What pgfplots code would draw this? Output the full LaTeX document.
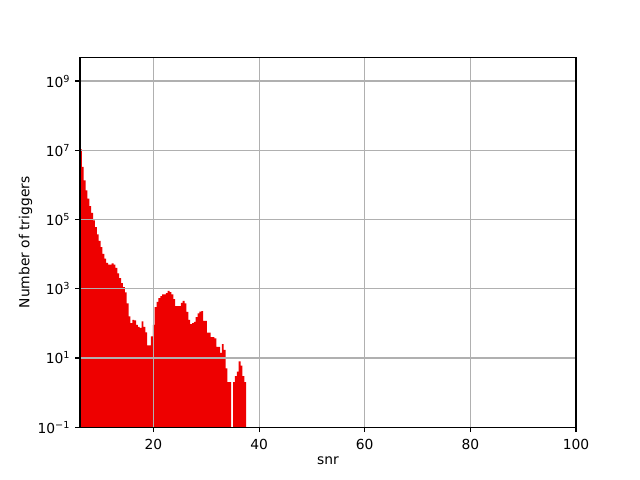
\documentclass[border=0pt]{standalone}
\usepackage{fontspec}
\setmainfont{DejaVu Sans}
\usepackage{pgfplots}
\pgfplotsset{compat=1.18}
\definecolor{barred}{RGB}{238,0,0}
\definecolor{gridgray}{RGB}{176,176,176}
\begin{document}
\fontsize{10}{12}\selectfont
\begin{tikzpicture}
\path[use as bounding box, fill=white] (-0.8in,-0.528in) rectangle (5.6in,4.272in);
\begin{axis}[
  at={(0,0)}, anchor=south west,
  scale only axis, width=4.96in, height=3.696in,
  xmin=6.1, xmax=100,
  ymode=log, ymin=0.1, ymax=4.76e9,
  log origin y=infty,
  xtick={20,40,60,80,100},
  xticklabels={20,40,60,80,100},
  ytick={1e-1,1e1,1e3,1e5,1e7,1e9},
  yticklabels={10\textsuperscript{−1},10\textsuperscript{1},10\textsuperscript{3},10\textsuperscript{5},10\textsuperscript{7},10\textsuperscript{9}},
  xminorticks=false, yminorticks=false,
  xtick pos=bottom, ytick pos=left,
  tick align=outside,
  major tick length=0.049in,
  tick style={black, line width=0.8pt},
  axis line style={black, line width=0.8pt},
  grid=major,
  major grid style={gridgray, line width=0.8pt},
  axis on top,
  xlabel={snr},
  ylabel={Number of triggers},
  tick label style={font=\fontsize{10}{12}\selectfont},
  label style={font=\fontsize{10}{12}\selectfont},
  xticklabel style={yshift=-0.02in},
  xlabel style={yshift=0.02in},
  ylabel style={yshift=-0.04in},
]
\addplot[ybar interval, fill=barred, draw=none] table {
x y
6.100 1.07e7
6.453 3.3e6
6.807 1.35e6
7.160 6.9e5
7.514 4.0e5
7.867 2.45e5
8.220 1.55e5
8.574 9.5e4
8.927 6.0e4
9.281 3.7e4
9.634 2.4e4
9.987 1.6e4
10.341 1.02e4
10.694 7400
11.048 5600
11.401 5000
11.754 5000
12.108 5400
12.461 5000
12.815 4000
13.168 2800
13.521 2040
13.875 1450
14.228 1120
14.582 790
14.935 380
15.288 158
15.642 102
15.995 126
16.349 122
16.702 91
17.055 79
17.409 74
17.762 115
18.116 79
18.469 55
18.822 23
19.176 23
19.529 42
19.883 91
20.236 295
20.589 417
20.943 537
21.296 617
21.650 692
22.003 692
22.356 741
22.710 871
23.063 794
23.417 692
23.770 501
24.123 316
24.477 316
24.830 316
25.184 389
25.537 447
25.890 380
26.244 214
26.597 126
26.951 95
27.304 102
27.657 110
28.011 151
28.364 195
28.718 219
29.071 224
29.424 117
29.778 117
30.131 54
30.485 54
30.838 40
31.191 40
31.545 37
31.898 21
32.252 21
32.605 14
32.958 25
33.312 17
33.665 5
34.019 2
34.372 2
34.725 0.01
35.079 2
35.432 3
35.786 4
36.139 8
36.492 6
36.846 3
37.199 2
37.553 2
};
\end{axis}
\end{tikzpicture}
\end{document}
